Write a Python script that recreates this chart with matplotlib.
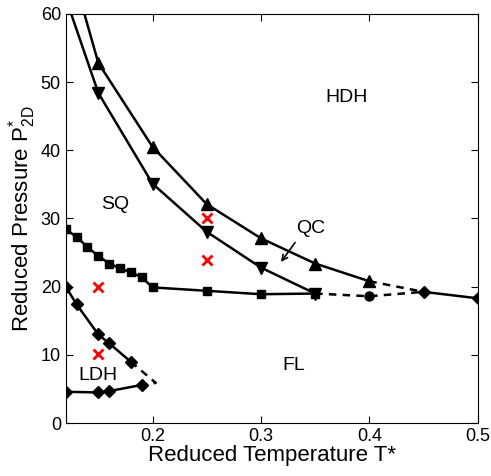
import matplotlib.pyplot as plt

plt.rcParams['font.family'] = ['Liberation Sans', 'DejaVu Sans']

# upper HDH/QC boundary (up triangles)
t_up = [0.13, 0.15, 0.2, 0.25, 0.3, 0.35, 0.4]
p_up = [64.0, 52.8, 40.5, 32.1, 27.1, 23.4, 20.8]

# QC/SQ boundary (down triangles)
t_dn = [0.12, 0.15, 0.2, 0.25, 0.3, 0.35]
p_dn = [62.3, 48.4, 35.1, 28.05, 22.8, 19.0]

# SQ/FL boundary (squares)
t_sq = [0.12, 0.13, 0.14, 0.15, 0.16, 0.17, 0.18, 0.19, 0.2, 0.25, 0.3, 0.35]
p_sq = [28.4, 27.3, 25.8, 24.5, 23.4, 22.7, 22.1, 21.4, 19.9, 19.4, 18.9, 19.0]

# LDH boundaries (diamonds)
t_ldh_up = [0.12, 0.13, 0.15, 0.16, 0.18]
p_ldh_up = [20.0, 17.4, 13.0, 11.7, 9.0]
t_ldh_lo = [0.12, 0.15, 0.16, 0.19]
p_ldh_lo = [4.6, 4.5, 4.7, 5.6]
t_ldh_end = 0.203
p_ldh_end = 5.9

# high T part (diamonds) and triple point (circle)
t_hi = [0.45, 0.5]
p_hi = [19.25, 18.3]
t_circ = 0.4
p_circ = 18.6

# simulation state points (red crosses)
t_x = [0.25, 0.25, 0.15, 0.15]
p_x = [30.0, 23.9, 20.0, 10.1]

fig = plt.figure(figsize=(4.91, 4.76), dpi=100)
ax = fig.add_axes([0.134, 0.111, 0.839, 0.86])

lw = 1.8
ax.plot(t_up, p_up, 'k-', marker='^', ms=8, lw=lw)
ax.plot(t_dn, p_dn, 'k-', marker='v', ms=8, lw=lw)
ax.plot(t_sq, p_sq, 'k-', marker='s', ms=5.5, lw=lw)
ax.plot(t_ldh_up, p_ldh_up, 'k-', marker='D', ms=6.3, lw=lw)
ax.plot(t_ldh_lo, p_ldh_lo, 'k-', marker='D', ms=6.3, lw=lw)
ax.plot([t_ldh_up[-1], t_ldh_end, t_ldh_lo[-1]],
        [p_ldh_up[-1], p_ldh_end, p_ldh_lo[-1]], 'k--', lw=lw, dashes=(3, 2.5))
ax.plot(t_hi, p_hi, 'k-', marker='D', ms=6.3, lw=lw)
ax.plot([t_up[-1], t_hi[0]], [p_up[-1], p_hi[0]], 'k--', lw=lw, dashes=(3, 2.5))
ax.plot([t_dn[-1], t_circ, t_hi[0]], [p_dn[-1], p_circ, p_hi[0]], 'k--', lw=lw, dashes=(3, 2.5))
ax.plot(t_circ, p_circ, 'ko', ms=6.5)
ax.plot(t_x, p_x, 'x', color='red', ms=7, mew=2, ls='none')

fs = 14
ax.text(0.379, 47.8, 'HDH', fontsize=fs, ha='center', va='center')
ax.text(0.166, 32.0, 'SQ', fontsize=fs, ha='center', va='center')
ax.text(0.346, 28.5, 'QC', fontsize=fs, ha='center', va='center')
ax.text(0.33, 8.5, 'FL', fontsize=fs, ha='center', va='center')
ax.text(0.15, 7.0, 'LDH', fontsize=fs, ha='center', va='center')
ax.annotate('', xy=(0.317, 23.3), xytext=(0.333, 26.8),
            arrowprops=dict(arrowstyle='->', color='k', lw=1.2))

ax.set_xlim(0.12, 0.5)
ax.set_ylim(0, 60)
ax.set_xticks([0.2, 0.3, 0.4, 0.5])
ax.set_xticklabels(['0.2', '0.3', '0.4', '0.5'])
ax.set_yticks(range(0, 61, 10))
ax.tick_params(direction='in', top=True, right=True, labelsize=13, length=5)
ax.set_xlabel('Reduced Temperature T*', fontsize=16, labelpad=0)
ax.set_ylabel(r'Reduced Pressure P$^{\mathregular{*}}_{\mathregular{2D}}$', fontsize=16, labelpad=2)

plt.savefig('out.png', dpi=100)
